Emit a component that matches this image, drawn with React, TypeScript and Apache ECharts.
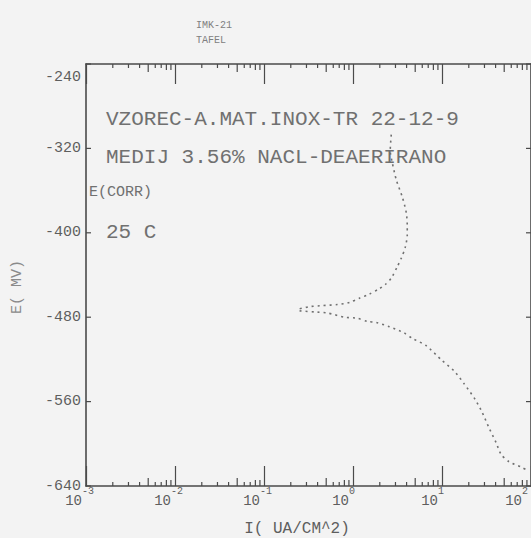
import React, { useEffect, useRef } from "react";
import * as echarts from "echarts";

// ---- data ----
// Potential axis ticks (mV)
const potentialTicks = [-240, -320, -400, -480, -560, -640];
// Current decades (uA/cm^2)
const currentDecades = [0.001, 0.01, 0.1, 1, 10, 100];
const minorMantissas = [2, 3, 4, 5, 6, 7, 8, 9];

// Anodic branch: current (uA/cm^2) and potential (mV)
const anodicCurrent = [2.69, 2.62, 2.77, 3.07, 3.58, 3.97, 4.07, 4.07, 3.86, 3.49, 3.15, 2.69, 2.31, 1.98, 1.53, 1.18, 0.912, 0.668, 0.454, 0.324, 0.251];
const anodicPotential = [-307, -322, -334, -350, -366, -381, -393, -402, -414, -424, -432, -443, -449, -453, -458, -462, -466, -468, -469, -470, -472];

// Cathodic branch
const cathodicCurrent = [0.251, 0.369, 0.516, 0.802, 1.12, 1.45, 1.83, 2.56, 3.77, 4.63, 6.65, 10.0, 13.7, 17.7, 23.6, 28.2, 33.8, 40.6, 46.1, 56.6, 77.3, 90.2];
const cathodicPotential = [-474, -475, -476, -480, -481, -484, -485, -489, -495, -500, -507, -521, -531, -543, -558, -570, -585, -599, -610, -617, -622, -625];

const MONO = '"Liberation Mono", "DejaVu Sans Mono", monospace';
const AXIS = "#4a4a4a";
const INK = "#707070";
const LABEL = "#5e5e5e";

export default function App() {
  const ref = useRef<HTMLDivElement>(null);

  useEffect(() => {
    if (!ref.current) return;
    const chart = echarts.init(ref.current, undefined, { renderer: "svg" });

    const yMin = potentialTicks[potentialTicks.length - 1];
    const yMax = potentialTicks[0];
    const xMin = currentDecades[0];
    const xMax = currentDecades[currentDecades.length - 1];

    const minorData: number[][] = [];
    currentDecades.slice(0, -1).forEach((d) => {
      minorMantissas.forEach((m) => minorData.push([d * m, m]));
    });

    const xAxisCommon = {
      type: "log" as const,
      logBase: 10,
      min: xMin,
      max: xMax,
      axisLine: { show: true, lineStyle: { color: AXIS, width: 1.6 } },
      axisTick: { show: true, inside: true, length: 20, lineStyle: { color: AXIS, width: 1.2 } },
      axisLabel: { show: false },
      splitLine: { show: false },
      minorTick: { show: false },
      minorSplitLine: { show: false },
    };

    const yAxisCommon = {
      type: "value" as const,
      min: yMin,
      max: yMax,
      interval: 80,
      axisLine: { show: true, lineStyle: { color: AXIS, width: 1.6 } },
      axisTick: { show: false },
      splitLine: { show: false },
    };

    const curveStyle = { type: [2, 4] as any, width: 1.6, color: INK };
    const tickStyle = { stroke: AXIS, lineWidth: 1.2 };

    chart.setOption({
      animation: false,
      backgroundColor: "#f3f3f3",
      grid: { left: 86, right: -1, top: 64, bottom: 52 },
      xAxis: [
        { ...xAxisCommon, position: "bottom" },
        { ...xAxisCommon, position: "top" },
      ],
      yAxis: [
        {
          ...yAxisCommon,
          position: "left",
          axisLabel: {
            show: true,
            color: LABEL,
            fontFamily: MONO,
            fontSize: 15,
            margin: 5,
            formatter: (v: number) => (v === yMax ? "{t|" + v + "}" : String(v)),
            rich: {
              t: { fontFamily: MONO, fontSize: 15, color: LABEL, padding: [26, 0, 0, 0] },
            },
          },
        },
        { ...yAxisCommon, position: "right", axisLabel: { show: false } },
      ],
      series: [
        {
          type: "line",
          name: "anodic",
          data: anodicCurrent.map((c, i) => [c, anodicPotential[i]]),
          showSymbol: false,
          symbol: "none",
          smooth: 0.25,
          lineStyle: curveStyle,
          silent: true,
        },
        {
          type: "line",
          name: "cathodic",
          data: cathodicCurrent.map((c, i) => [c, cathodicPotential[i]]),
          showSymbol: false,
          symbol: "none",
          smooth: 0.25,
          lineStyle: curveStyle,
          silent: true,
        },
        {
          type: "custom",
          name: "minorTicks",
          clip: false,
          silent: true,
          data: minorData,
          renderItem: (params: any, api: any) => {
            const v = api.value(0);
            const m = api.value(1);
            const b = api.coord([v, yMin]);
            const t = api.coord([v, yMax]);
            const len = m === 5 ? 8 : m >= 8 ? 6 : 4;
            return {
              type: "group",
              children: [
                { type: "line", shape: { x1: b[0], y1: b[1], x2: b[0], y2: b[1] - len }, style: tickStyle },
                { type: "line", shape: { x1: t[0], y1: t[1], x2: t[0], y2: t[1] + len }, style: tickStyle },
              ],
            };
          },
        },
        {
          type: "custom",
          name: "potentialTicks",
          clip: false,
          silent: true,
          data: potentialTicks.map((p) => [xMin, p]),
          renderItem: (params: any, api: any) => {
            const v = api.value(1);
            const l = api.coord([xMin, v]);
            const r = api.coord([xMax, v]);
            return {
              type: "group",
              children: [
                { type: "line", shape: { x1: l[0], y1: l[1], x2: l[0] + 5, y2: l[1] }, style: tickStyle },
                { type: "line", shape: { x1: r[0], y1: r[1], x2: r[0] - 5, y2: r[1] }, style: tickStyle },
              ],
            };
          },
        },
        {
          type: "custom",
          name: "decadeLabels",
          clip: false,
          silent: true,
          data: currentDecades.map((d) => [d, Math.round(Math.log10(d))]),
          renderItem: (params: any, api: any) => {
            const v = api.value(0);
            const e = api.value(1);
            const p = api.coord([v, yMin]);
            const ax = p[0] > 525 ? p[0] - 9 : p[0] - 4;
            return {
              type: "group",
              children: [
                {
                  type: "text",
                  x: ax,
                  y: p[1] + 15,
                  style: { text: "10", fill: LABEL, fontFamily: MONO, fontSize: 14, align: "right", verticalAlign: "middle" },
                },
                {
                  type: "text",
                  x: ax,
                  y: p[1] + 5,
                  style: { text: String(e), fill: LABEL, fontFamily: MONO, fontSize: 10, align: "left", verticalAlign: "middle" },
                },
              ],
            };
          },
        },
      ],
      graphic: [
        { type: "text", x: 196, y: 25, style: { text: "IMK-21", fill: "#808080", fontFamily: MONO, fontSize: 10, verticalAlign: "middle" } },
        { type: "text", x: 196, y: 40, style: { text: "TAFEL", fill: "#808080", fontFamily: MONO, fontSize: 10, verticalAlign: "middle" } },
        { type: "text", x: 106, y: 119, style: { text: "VZOREC-A.MAT.INOX-TR 22-12-9", fill: INK, fontFamily: MONO, fontSize: 21, verticalAlign: "middle" } },
        { type: "text", x: 106, y: 157, style: { text: "MEDIJ 3.56% NACL-DEAERIRANO", fill: INK, fontFamily: MONO, fontSize: 21, verticalAlign: "middle" } },
        { type: "text", x: 89, y: 192, style: { text: "E(CORR)", fill: INK, fontFamily: MONO, fontSize: 15, verticalAlign: "middle" } },
        { type: "text", x: 106, y: 232, style: { text: "25 C", fill: INK, fontFamily: MONO, fontSize: 21, verticalAlign: "middle" } },
        { type: "text", x: 297, y: 529, style: { text: "I( UA/CM^2)", fill: LABEL, fontFamily: MONO, fontSize: 16, align: "center", verticalAlign: "middle" } },
        { type: "text", x: 17, y: 287, rotation: Math.PI / 2, style: { text: "E( MV)", fill: "#8a8a8a", fontFamily: MONO, fontSize: 15, align: "center", verticalAlign: "middle" } },
      ],
    });

    return () => chart.dispose();
  }, []);

  return <div ref={ref} style={{ position: "absolute", left: 0, top: 0, width: 531, height: 538 }} />;
}
